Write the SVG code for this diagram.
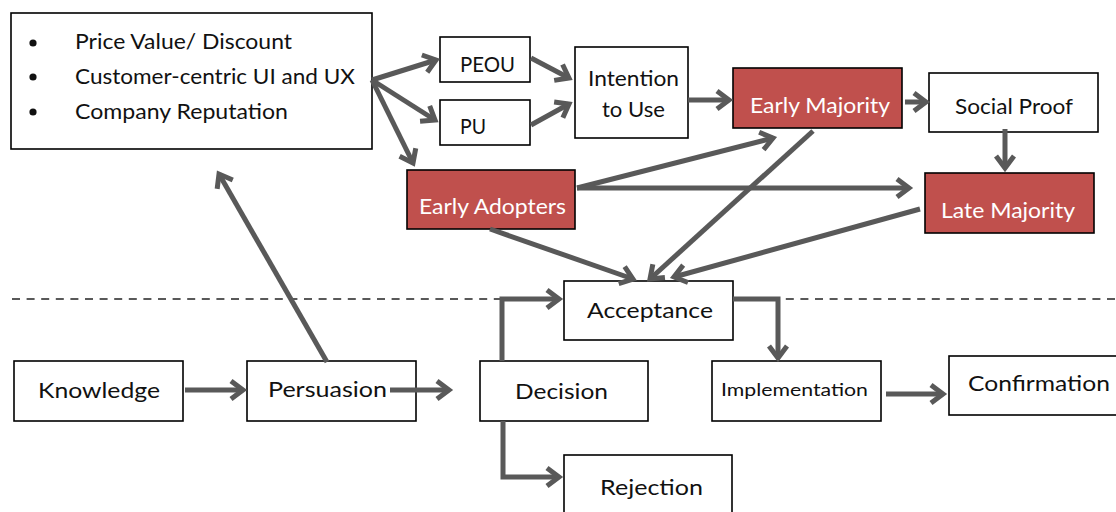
<svg xmlns="http://www.w3.org/2000/svg" width="1116" height="512" viewBox="0 0 1116 512">
  <style>
    .box { fill: #ffffff; stroke: #000000; stroke-width: 1.6; }
    .red { fill: #C0504D; stroke: #000000; stroke-width: 1.6; }
    .lbl { font-family: Lato, "Open Sans", "Liberation Sans", sans-serif; font-size: 22px; fill: #111111; }
    .wht { fill: #ffffff; }
    .small { font-size: 18px; }
    .conn { fill: none; stroke: #595959; stroke-width: 5; stroke-linejoin: miter; marker-end: url(#ah); }
    .divider { fill: none; stroke: #595959; stroke-width: 2; stroke-dasharray: 8 6.6; }
  </style>
  <defs>
    <marker id="ah" markerUnits="userSpaceOnUse" orient="auto" refX="0" refY="0" markerWidth="40" markerHeight="40" style="overflow:visible">
      <path d="M-12,-9 L0,0 L-12,9" fill="none" stroke="#595959" stroke-width="5" stroke-linejoin="miter"/>
    </marker>
  </defs>

  <rect width="1116" height="512" fill="#ffffff"/>

  <!-- dashed separator between the adoption layer and the decision stages -->
  <line class="divider" x1="12" y1="299" x2="1116" y2="299"/>

  <g id="factors">
    <rect class="box" x="11" y="13" width="361" height="136"/>
    <circle cx="33" cy="43" r="3.6" fill="#111"/>
    <circle cx="33" cy="77" r="3.6" fill="#111"/>
    <circle cx="33" cy="112" r="3.6" fill="#111"/>
    <text class="lbl" x="75" y="49" textLength="217" lengthAdjust="spacingAndGlyphs">Price Value/ Discount</text>
    <text class="lbl" x="75" y="84" textLength="280" lengthAdjust="spacingAndGlyphs">Customer-centric UI and UX</text>
    <text class="lbl" x="75" y="119" textLength="213" lengthAdjust="spacingAndGlyphs">Company Reputation</text>
  </g>

  <g id="peou">
    <rect class="box" x="440" y="37" width="90" height="45"/>
    <text class="lbl" x="460" y="72" textLength="55" lengthAdjust="spacingAndGlyphs">PEOU</text>
  </g>

  <g id="pu">
    <rect class="box" x="440" y="100" width="90" height="45"/>
    <text class="lbl" x="460" y="134" textLength="26" lengthAdjust="spacingAndGlyphs">PU</text>
  </g>

  <g id="intention">
    <rect class="box" x="575" y="47" width="113" height="91"/>
    <text class="lbl" x="588" y="86" textLength="91" lengthAdjust="spacingAndGlyphs">Intention</text>
    <text class="lbl" x="602" y="117" textLength="63" lengthAdjust="spacingAndGlyphs">to Use</text>
  </g>

  <g id="early-adopters">
    <rect class="red" x="407" y="170" width="168" height="59"/>
    <text class="lbl wht" x="419" y="214" textLength="147" lengthAdjust="spacingAndGlyphs">Early Adopters</text>
  </g>

  <g id="early-majority">
    <rect class="red" x="733" y="68" width="169" height="60"/>
    <text class="lbl wht" x="750" y="113" textLength="140" lengthAdjust="spacingAndGlyphs">Early Majority</text>
  </g>

  <g id="social-proof">
    <rect class="box" x="929" y="73" width="169" height="59"/>
    <text class="lbl" x="955" y="114" textLength="118" lengthAdjust="spacingAndGlyphs">Social Proof</text>
  </g>

  <g id="late-majority">
    <rect class="red" x="925" y="173" width="169" height="60"/>
    <text class="lbl wht" x="941" y="218" textLength="134" lengthAdjust="spacingAndGlyphs">Late Majority</text>
  </g>

  <g id="acceptance">
    <rect class="box" x="564" y="281" width="169" height="59"/>
    <text class="lbl" x="587" y="318" textLength="126" lengthAdjust="spacingAndGlyphs">Acceptance</text>
  </g>

  <g id="knowledge">
    <rect class="box" x="14" y="361" width="169" height="60"/>
    <text class="lbl" x="38" y="398" textLength="122" lengthAdjust="spacingAndGlyphs">Knowledge</text>
  </g>

  <g id="persuasion">
    <rect class="box" x="247" y="361" width="169" height="60"/>
    <text class="lbl" x="268" y="397" textLength="119" lengthAdjust="spacingAndGlyphs">Persuasion</text>
  </g>

  <g id="decision">
    <rect class="box" x="480" y="361" width="168" height="60"/>
    <text class="lbl" x="515" y="399" textLength="93" lengthAdjust="spacingAndGlyphs">Decision</text>
  </g>

  <g id="implementation">
    <rect class="box" x="712" y="361" width="169" height="60"/>
    <text class="lbl small" x="721" y="396" textLength="147" lengthAdjust="spacingAndGlyphs">Implementation</text>
  </g>

  <g id="confirmation">
    <rect class="box" x="949" y="356" width="180" height="59"/>
    <text class="lbl" x="968" y="391" textLength="142" lengthAdjust="spacingAndGlyphs">Confirmation</text>
  </g>

  <g id="rejection">
    <rect class="box" x="564" y="455" width="168" height="70"/>
    <text class="lbl" x="600" y="495" textLength="103" lengthAdjust="spacingAndGlyphs">Rejection</text>
  </g>

  <g id="connectors">
    <path class="conn" d="M372,80 L436,60"/>
    <path class="conn" d="M372,80 L435,120"/>
    <path class="conn" d="M372,80 L413,163"/>
    <path class="conn" d="M531,58 L569,78"/>
    <path class="conn" d="M531,125 L569,104"/>
    <path class="conn" d="M688,100 L729,100"/>
    <path class="conn" d="M905,102 L926,102"/>
    <path class="conn" d="M1005,129 L1005,168"/>
    <path class="conn" d="M577,188 L773,138"/>
    <path class="conn" d="M577,188 L909,188"/>
    <path class="conn" d="M813,131 L650,279"/>
    <path class="conn" d="M920,209 L674,277"/>
    <path class="conn" d="M490,229 L633,279"/>
    <path class="conn" d="M327,362 L219,174"/>
    <path class="conn" d="M185,390 L243,390"/>
    <path class="conn" d="M390,390 L449,390"/>
    <path class="conn" d="M502,361 L502,299 L559,299"/>
    <path class="conn" d="M733,299 L778,299 L778,358"/>
    <path class="conn" d="M503,421 L503,477 L559,477"/>
    <path class="conn" d="M886,394 L943,394"/>
  </g>
</svg>
